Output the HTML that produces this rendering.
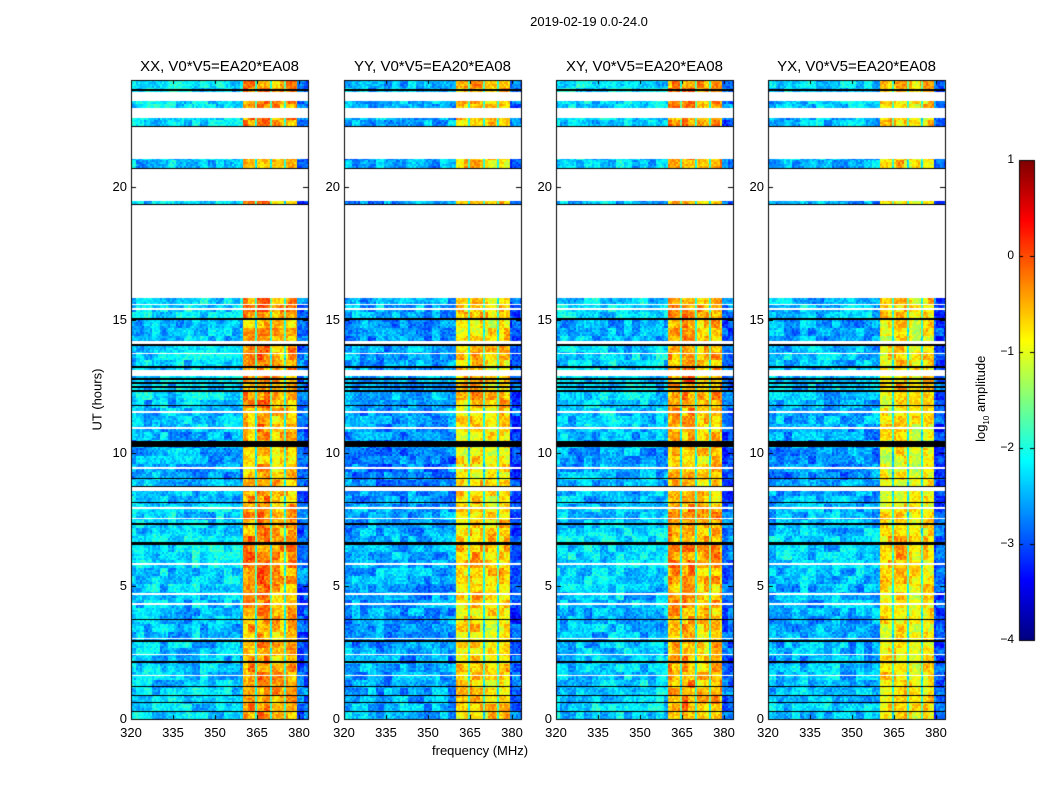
<!DOCTYPE html>
<html><head><meta charset="utf-8">
<style>
body{margin:0;background:#fff;font-family:"Liberation Sans","DejaVu Sans",sans-serif;}
#wrap{position:relative;width:1050px;height:800px;overflow:hidden;background:#fff;}
.t{position:absolute;color:#000;white-space:nowrap;z-index:2;}
</style></head>
<body>
<div id="wrap">
<canvas id="cv" width="1050" height="800" style="position:absolute;left:0;top:0;z-index:1"></canvas>
<div class="t" style="left:489px;width:200px;top:14px;text-align:center;font-size:13px;">2019-02-19 0.0-24.0</div>
<div class="t" style="left:432px;top:743px;font-size:13px;">frequency (MHz)</div>
<div class="t" style="left:62px;top:392px;font-size:13px;transform:rotate(-90deg);transform-origin:center;width:70px;text-align:center;">UT (hours)</div>
<div id="labels"></div>
</div>
<script>
// ---- data ----
const pols = ["XX","YY","XY","YX"];
const baseline = "V0*V5=EA20*EA08";
const xTicks = [320,335,350,365,380];
const yTicks = [0,5,10,15,20];
const cbTicks = [1,0,-1,-2,-3,-4];
const freqEdges = [320,360,364.3,365.0,369.7,370.4,374.8,375.5,379.3,383.2];
const lowLevel = [-2.4,-2.6,-2.4,-2.5];
const bandLevel = [
 [-0.45,-0.35,-0.6,-0.5],
 [-0.75,-0.65,-0.8,-0.7],
 [-0.5,-0.45,-0.65,-0.55],
 [-0.85,-0.75,-0.9,-0.8]];
const sepLevel = [-1.9,-2.0,-1.9,-2.0];
const highLevel = [-2.9,-3.0,-2.9,-3.0];
const whiteRows = [[23.23,23.56],[22.59,22.96],[21.05,22.25],[19.44,20.64],[15.8,19.29],[15.35,15.42],[15.55,15.6],[14.07,14.2],[12.87,13.1],[8.55,8.7],[13.7,13.75],[10.9,10.95],[7.9,7.95],[7.5,7.55],[4.65,4.72],[4.3,4.35],[3.0,3.05],[2.4,2.45],[1.6,1.65],[5.8,5.85],[9.4,9.45],[11.5,11.55]];
const blackRows = [[23.6,23.66],[22.22,22.28],[20.6,20.7],[19.3,19.36],[14.0,14.07],[13.2,13.25],[12.75,12.82],[12.6,12.66],[12.45,12.5],[12.3,12.35],[10.22,10.45],[9.0,9.05],[8.7,8.75],[6.55,6.65],[3.7,3.75],[2.9,2.95],[2.1,2.16],[1.2,1.25],[0.85,0.9],[0.6,0.65],[0.25,0.3],[7.3,7.35],[8.1,8.15],[11.75,11.8],[15.0,15.05]];
const hourOffset = [0.1,0.05,0.0,-0.05,0.0,0.1,0.15,0.05,-0.05,-0.15,-0.1,0.0,0.1,0.05,-0.05,0.1,0,0,0,0,0.05,0.05,0.1,0.15];
// ---- geometry ----
const panelX = [131,344,556,768], PW = 177, PT = 80, PB = 719;
const yPerHour = (PB-80)/24;
function xs(f,i){return panelX[i]+(f-320)*2.8;}
function ys(h){return PB-h*yPerHour;}
function jet(v){
 let t=Math.max(0,Math.min(1,(v+4)/5));
 const r=Math.max(0,Math.min(1,1.5-Math.abs(4*t-3)));
 const g=Math.max(0,Math.min(1,1.5-Math.abs(4*t-2)));
 const b=Math.max(0,Math.min(1,1.5-Math.abs(4*t-1)));
 return [r*255|0,g*255|0,b*255|0];
}
function hash(a,b,c){let h=(a*374761393+b*668265263+c*2147483647)|0;h=(h^(h>>>13))*1274126177;h=h^(h>>>16);return ((h>>>0)%10000)/10000;}
function segLevel(f,p){
 let k=0;for(let j=0;j<freqEdges.length-1;j++){if(f>=freqEdges[j]&&f<freqEdges[j+1])k=j;}
 if(f>=freqEdges[freqEdges.length-1])k=freqEdges.length-2;
 if(k===0)return lowLevel[p];
 if(k===8)return highLevel[p];
 if(k%2===0)return sepLevel[p];
 return bandLevel[p][(k-1)/2];
}
const cv=document.getElementById('cv'),ctx=cv.getContext('2d');
const img=ctx.createImageData(1050,800);
for(let p=0;p<4;p++){
 for(let py=PT;py<PB;py++){
  const h=(PB-py-0.5)/yPerHour;
  let white=whiteRows.some(r=>h>=r[0]&&h<r[1]);
  let black=blackRows.some(r=>h>=r[0]&&h<r[1]);
  const off=hourOffset[Math.min(23,Math.floor(h))];
  for(let px=panelX[p];px<panelX[p]+PW;px++){
   const f=320+(px-panelX[p]+0.5)/2.8;
   let c;
   if(white)c=[255,255,255];
   else if(black)c=[0,0,0];
   else{
    let v=segLevel(f,p)+off;
    const n=hash(px>>3,py>>3,p)-0.5, n2=hash(px>>1,py>>1,p+7)-0.5;
    v+=n*0.7+n2*0.5;
    c=jet(v);
   }
   const o=(py*1050+px)*4;img.data[o]=c[0];img.data[o+1]=c[1];img.data[o+2]=c[2];img.data[o+3]=255;
  }
 }
}
for(let py=160;py<640;py++){const v=1-(py-160)/480*5;const c=jet(v);for(let px=1019;px<1034;px++){const o=(py*1050+px)*4;img.data[o]=c[0];img.data[o+1]=c[1];img.data[o+2]=c[2];img.data[o+3]=255;}}
ctx.putImageData(img,0,0);
ctx.strokeStyle='#000';ctx.lineWidth=1;
for(let p=0;p<4;p++){
 ctx.strokeRect(panelX[p]+0.5,PT+0.5,PW,PB-PT);
 xTicks.forEach(t=>{const x=Math.round(xs(t,p))+0.5;ctx.beginPath();ctx.moveTo(x,PB);ctx.lineTo(x,PB-4);ctx.moveTo(x,PT);ctx.lineTo(x,PT+4);ctx.stroke();});
 yTicks.forEach(t=>{const y=Math.round(ys(t))+0.5;ctx.beginPath();ctx.moveTo(panelX[p],y);ctx.lineTo(panelX[p]+5,y);ctx.moveTo(panelX[p]+PW,y);ctx.lineTo(panelX[p]+PW-5,y);ctx.stroke();});
}
ctx.strokeRect(1019.5,160.5,15,480);
cbTicks.forEach(t=>{const y=Math.round(160+(1-t)/5*480)+0.5;ctx.beginPath();ctx.moveTo(1019,y);ctx.lineTo(1023,y);ctx.moveTo(1034,y);ctx.lineTo(1030,y);ctx.stroke();});
const L=document.getElementById('labels');
function lab(txt,x,y,name,extra){const d=document.createElement('div');d.className='t';d.textContent=txt;d.style.left=x+'px';d.style.top=y+'px';d.style.cssText+=extra||'';


L.appendChild(d);return d;}
for(let p=0;p<4;p++){
 lab(pols[p]+", "+baseline,panelX[p]+PW/2-100,58,'panel-title-'+pols[p].toLowerCase(),'width:200px;text-align:center;font-size:15px;');
 xTicks.forEach(t=>lab(String(t),xs(t,p)-20,725,'x-tick-label','width:40px;text-align:center;font-size:13px;'));
 yTicks.forEach(t=>lab(String(t),panelX[p]-44,ys(t)-8,'y-tick-label','width:40px;text-align:right;font-size:13px;'));
}
cbTicks.forEach(t=>lab(t<0?'\u2212'+(-t):String(t),996,160+(1-t)/5*480-8,'colorbar-tick-label','width:18px;text-align:right;font-size:12px;'));
const cbt=lab('',0,0,'colorbar-title','');
cbt.innerHTML='log<sub style="font-size:8px">10</sub> amplitude';
cbt.style.cssText+='left:932px;top:390px;width:100px;text-align:center;font-size:13px;transform:rotate(-90deg);';
</script>
</body></html>
